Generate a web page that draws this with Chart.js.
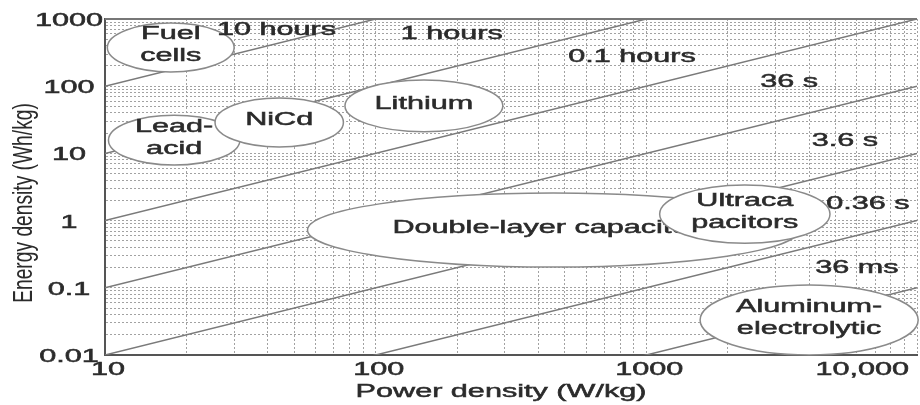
<!DOCTYPE html>
<html>
<head>
<meta charset="utf-8">
<script src="https://cdn.jsdelivr.net/npm/chart.js@4.4.1/dist/chart.umd.min.js"></script>
<style>
  body { margin: 0; background: #fff; }
  #chart { display: block; }
</style>
</head>
<body>
<canvas id="chart" width="920" height="405"></canvas>
<script>
// axis ticks
const powerDecades = [10, 100, 1000];
const energyDecades = [0.01, 0.1, 1, 10, 100];
const minorSteps = [1, 2, 3, 4, 5, 6, 7, 8, 9];
const powerTickValues = [10, 100, 1000, 10000];
const powerTickLabels = ['10', '100', '1000', '10,000'];
const energyTickValues = [0.01, 0.1, 1, 10, 100, 1000];
const energyTickLabels = ['0.01', '0.1', '1', '10', '100', '1000'];

// constant discharge time lines (energy at P = 10 and P = 10000 W/kg)
const timeLabels = ['10 hours', '1 hours', '0.1 hours', '36 s', '3.6 s', '0.36 s', '36 ms'];
const lineEndPower = [10, 10000];
const lineEndEnergy = [
  [100, 100000],
  [10, 10000],
  [1, 1000],
  [0.1, 100],
  [0.01, 10],
  [0.001, 1],
  [0.0001, 0.1]
];
const timeLabelPower = [43, 191, 885, 3370, 5420, 6590, 6000];
const timeLabelEnergy = [686, 598, 272, 115, 15.3, 1.77, 0.197];

// technology regions (drawn as ellipses)
const regionNames = [
  ['Fuel', 'cells'],
  ['Lead-', 'acid'],
  ['NiCd'],
  ['Lithium'],
  ['Double-layer capacitors'],
  ['Ultraca', 'pacitors'],
  ['Aluminum-', 'electrolytic']
];
const regionPower = [[10.2, 30], [10.3, 31.5], [25.5, 76], [77, 295], [56, 3660], [1120, 4770], [1580, 10100]];
const regionEnergy = [[163, 870], [6.7, 37], [12.5, 67], [21, 124], [0.204, 2.57], [0.46, 3.4], [0.01, 0.11]];

const TEXT_FONT = '18px "Liberation Sans", Arial, sans-serif';
const TEXT_COLOR = '#2b2b2b';
const STRETCH = 1.7;

function minorTicks(decades) {
  const out = [];
  decades.forEach(d => minorSteps.forEach(m => out.push(+(d * m).toPrecision(3))));
  return out;
}
const powerGrid = minorTicks(powerDecades).concat([10000]);
const energyGrid = minorTicks(energyDecades).concat([1000]);

function wideText(ctx, text, x, y, align) {
  ctx.save();
  ctx.translate(x, y);
  ctx.scale(STRETCH, 1);
  ctx.font = TEXT_FONT;
  ctx.fillStyle = TEXT_COLOR;
  ctx.strokeStyle = TEXT_COLOR;
  ctx.lineWidth = 0.5;
  ctx.textAlign = align || 'center';
  ctx.textBaseline = 'middle';
  ctx.fillText(text, 0, 0);
  ctx.strokeText(text, 0, 0);
  ctx.restore();
}

const ragonePlugin = {
  id: 'ragone',
  afterDatasetsDraw(chart) {
    const { ctx, chartArea, scales: { x, y } } = chart;

    // regions
    regionNames.forEach((lines, i) => {
      const x1 = x.getPixelForValue(regionPower[i][0]);
      const x2 = x.getPixelForValue(regionPower[i][1]);
      const y1 = y.getPixelForValue(regionEnergy[i][1]);
      const y2 = y.getPixelForValue(regionEnergy[i][0]);
      const cx = (x1 + x2) / 2, cy = (y1 + y2) / 2;
      ctx.save();
      ctx.beginPath();
      ctx.ellipse(cx, cy, (x2 - x1) / 2, (y2 - y1) / 2, 0, 0, Math.PI * 2);
      ctx.fillStyle = '#fff';
      ctx.fill();
      ctx.lineWidth = 1.5;
      ctx.strokeStyle = '#8a8a8a';
      ctx.stroke();
      ctx.restore();
      const start = cy - 2 - (lines.length - 1) * 11;
      lines.forEach((t, k) => wideText(ctx, t, cx, start + k * 22));
    });

    // time labels
    timeLabels.forEach((t, i) => {
      wideText(ctx, t, x.getPixelForValue(timeLabelPower[i]), y.getPixelForValue(timeLabelEnergy[i]));
    });

    // top frame
    ctx.save();
    ctx.strokeStyle = '#777';
    ctx.lineWidth = 2;
    ctx.beginPath();
    ctx.moveTo(chartArea.left, chartArea.top);
    ctx.lineTo(chartArea.right, chartArea.top);
    ctx.stroke();
    ctx.restore();
  },
  afterDraw(chart) {
    const { ctx, chartArea, scales: { x, y } } = chart;
    powerTickValues.forEach((v, i) => {
      const last = i === powerTickValues.length - 1;
      const px = x.getPixelForValue(v);
      wideText(ctx, powerTickLabels[i], last ? px - 8 : px + 3, chartArea.bottom + 15, last ? 'right' : 'center');
    });
    energyTickValues.forEach((v, i) => {
      wideText(ctx, energyTickLabels[i], 69, y.getPixelForValue(v) + 2);
    });

    wideText(ctx, 'Power density (W/kg)', (chartArea.left + chartArea.right) / 2 - 10, chartArea.bottom + 37);

    ctx.save();
    ctx.translate(24, 203);
    ctx.rotate(-Math.PI / 2);
    ctx.scale(1.13, 1.6);
    ctx.font = '17px "Liberation Sans", Arial, sans-serif';
    ctx.fillStyle = TEXT_COLOR;
    ctx.textAlign = 'center';
    ctx.textBaseline = 'middle';
    ctx.fillText('Energy density (Wh/kg)', 0, 0);
    ctx.restore();
  }
};

const datasets = timeLabels.map((t, i) => ({
  label: t,
  data: lineEndPower.map((p, k) => ({ x: p, y: lineEndEnergy[i][k] })),
  borderColor: '#7a7a7a',
  borderWidth: 1.5,
  pointRadius: 0,
  fill: false
}));

const gridOpts = { color: '#a2a2a2', lineWidth: 1, drawTicks: false };

new Chart(document.getElementById('chart'), {
  type: 'line',
  data: { datasets },
  options: {
    responsive: false,
    animation: false,
    layout: { padding: { left: 105, top: 19, right: 3, bottom: 50 } },
    plugins: { legend: { display: false }, tooltip: { enabled: false } },
    scales: {
      x: {
        type: 'logarithmic',
        min: 10,
        max: 10000,
        grid: gridOpts,
        border: { display: true, color: '#555', width: 2, dash: [2, 2] },
        ticks: { display: false },
        afterBuildTicks: s => { s.ticks = powerGrid.map(v => ({ value: v })); },
        afterFit: s => { s.height = 0; }
      },
      y: {
        type: 'logarithmic',
        min: 0.01,
        max: 1000,
        grid: gridOpts,
        border: { display: true, color: '#555', width: 2, dash: [2, 2] },
        ticks: { display: false },
        afterBuildTicks: s => { s.ticks = energyGrid.map(v => ({ value: v })); },
        afterFit: s => { s.width = 0; }
      }
    }
  },
  plugins: [ragonePlugin]
});
</script>
</body>
</html>
